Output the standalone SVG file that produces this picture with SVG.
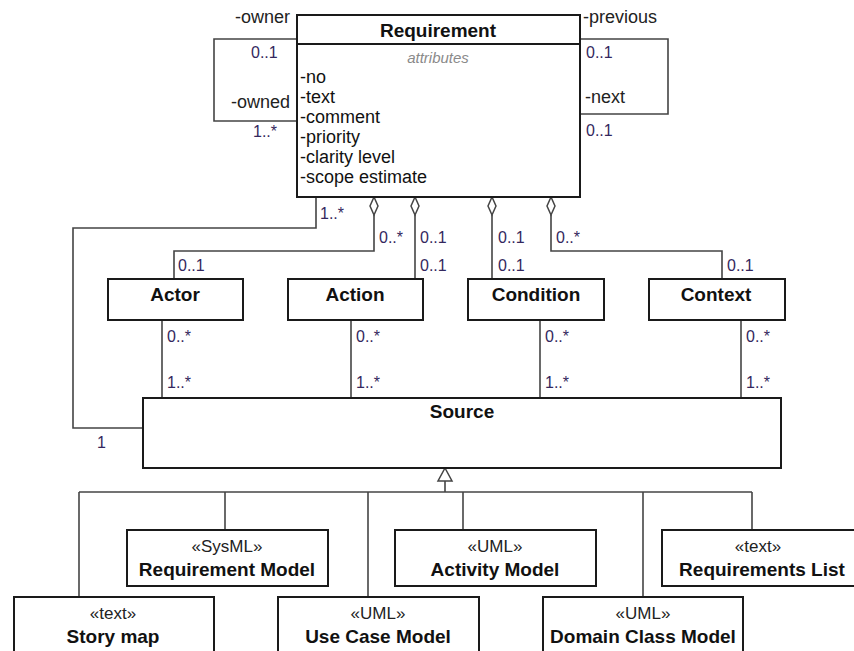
<svg xmlns="http://www.w3.org/2000/svg" width="854" height="651" viewBox="0 0 854 651">
<style>
.box{fill:#fff;stroke:#1a1a1a;stroke-width:2}
.ln{fill:none;stroke:#444;stroke-width:1.6}
.dia{fill:#fff;stroke:#444;stroke-width:1.5}
text{font-family:"Liberation Sans",Arial,sans-serif;fill:#111}
.t{font-size:19px;font-weight:bold;text-anchor:middle}
.st{font-size:17px;text-anchor:middle;fill:#222}
.at{font-size:18px}
.m{font-size:16px;fill:#34285e}
.r{font-size:18px;fill:#222}
.it{font-size:15px;font-style:italic;fill:#8a8a8a;text-anchor:middle}
</style>
<rect width="854" height="651" fill="#fff"/>
<g id="connectors">
  <polyline class="ln" points="297,39 214,39 214,121 297,121"/>
  <polyline class="ln" points="580,39 668,39 668,114 580,114"/>
  <polyline class="ln" points="316,197 316,228 73,228 73,428 143,428"/>
  <polyline class="ln" points="374,215 374,251 174,251 174,279"/>
  <line class="ln" x1="415" y1="215" x2="415" y2="279"/>
  <line class="ln" x1="492" y1="215" x2="492" y2="279"/>
  <polyline class="ln" points="551,215 551,251 722,251 722,279"/>
  <path class="dia" d="M374,197 L378,206 L374,215 L370,206 Z"/>
  <path class="dia" d="M415,197 L419,206 L415,215 L411,206 Z"/>
  <path class="dia" d="M492,197 L496,206 L492,215 L488,206 Z"/>
  <path class="dia" d="M551,197 L555,206 L551,215 L547,206 Z"/>
  <line class="ln" x1="162" y1="320" x2="162" y2="398"/>
  <line class="ln" x1="351" y1="320" x2="351" y2="398"/>
  <line class="ln" x1="540" y1="320" x2="540" y2="398"/>
  <line class="ln" x1="741" y1="320" x2="741" y2="398"/>
  <line class="ln" x1="445" y1="481" x2="445" y2="492"/>
  <path class="dia" d="M445,468 L452,481 L438,481 Z"/>
  <line class="ln" x1="79" y1="492" x2="752" y2="492"/>
  <line class="ln" x1="79" y1="492" x2="79" y2="597"/>
  <line class="ln" x1="225" y1="492" x2="225" y2="530"/>
  <line class="ln" x1="368" y1="492" x2="368" y2="597"/>
  <line class="ln" x1="463" y1="492" x2="463" y2="530"/>
  <line class="ln" x1="643" y1="492" x2="643" y2="597"/>
  <line class="ln" x1="752" y1="492" x2="752" y2="530"/>
  <text class="r" x="290" y="23" text-anchor="end">-owner</text>
  <text class="m" x="251" y="58">0..1</text>
  <text class="r" x="290" y="108" text-anchor="end">-owned</text>
  <text class="m" x="253" y="137">1..*</text>
  <text class="r" x="583" y="23">-previous</text>
  <text class="m" x="586" y="58">0..1</text>
  <text class="r" x="585" y="103">-next</text>
  <text class="m" x="586" y="136">0..1</text>
  <text class="m" x="320" y="219">1..*</text>
  <text class="m" x="379" y="243">0..*</text>
  <text class="m" x="420" y="243">0..1</text>
  <text class="m" x="420" y="271">0..1</text>
  <text class="m" x="178" y="271">0..1</text>
  <text class="m" x="498" y="243">0..1</text>
  <text class="m" x="498" y="271">0..1</text>
  <text class="m" x="556" y="243">0..*</text>
  <text class="m" x="727" y="271">0..1</text>
  <text class="m" x="167" y="342">0..*</text>
  <text class="m" x="167" y="388">1..*</text>
  <text class="m" x="356" y="342">0..*</text>
  <text class="m" x="356" y="388">1..*</text>
  <text class="m" x="545" y="342">0..*</text>
  <text class="m" x="545" y="388">1..*</text>
  <text class="m" x="746" y="342">0..*</text>
  <text class="m" x="746" y="388">1..*</text>
  <text class="m" x="97" y="448">1</text>
</g>
<g id="requirement">
  <rect class="box" x="297" y="15" width="283" height="182"/>
  <line x1="297" y1="44" x2="580" y2="44" stroke="#1a1a1a" stroke-width="2"/>
  <text class="t" x="438" y="37">Requirement</text>
  <text class="it" x="438" y="63">attributes</text>
  <text class="at" x="300" y="83">-no</text>
  <text class="at" x="300" y="103">-text</text>
  <text class="at" x="300" y="123">-comment</text>
  <text class="at" x="300" y="143">-priority</text>
  <text class="at" x="300" y="163">-clarity level</text>
  <text class="at" x="300" y="183">-scope estimate</text>
</g>
<g id="actor">
  <rect class="box" x="108" y="279" width="135" height="41"/>
  <text class="t" x="175" y="301">Actor</text>
</g>
<g id="action">
  <rect class="box" x="288" y="279" width="135" height="41"/>
  <text class="t" x="355" y="301">Action</text>
</g>
<g id="condition">
  <rect class="box" x="468" y="279" width="136" height="41"/>
  <text class="t" x="536" y="301">Condition</text>
</g>
<g id="context">
  <rect class="box" x="649" y="279" width="136" height="41"/>
  <text class="t" x="716" y="301">Context</text>
</g>
<g id="source">
  <rect class="box" x="143" y="398" width="638" height="70"/>
  <text class="t" x="462" y="418">Source</text>
</g>
<g id="requirement-model">
  <rect class="box" x="127" y="530" width="201" height="56"/>
  <text class="st" x="227" y="552">«SysML»</text>
  <text class="t" x="227" y="576">Requirement Model</text>
</g>
<g id="activity-model">
  <rect class="box" x="395" y="530" width="201" height="56"/>
  <text class="st" x="495" y="552">«UML»</text>
  <text class="t" x="495" y="576">Activity Model</text>
</g>
<g id="requirements-list">
  <rect class="box" x="662" y="530" width="200" height="56"/>
  <text class="st" x="758" y="552">«text»</text>
  <text class="t" x="762" y="576">Requirements List</text>
</g>
<g id="story-map">
  <rect class="box" x="14" y="597" width="200" height="60"/>
  <text class="st" x="113" y="619">«text»</text>
  <text class="t" x="113" y="643">Story map</text>
</g>
<g id="use-case-model">
  <rect class="box" x="278" y="597" width="201" height="60"/>
  <text class="st" x="378" y="619">«UML»</text>
  <text class="t" x="378" y="643">Use Case Model</text>
</g>
<g id="domain-class-model">
  <rect class="box" x="543" y="597" width="200" height="60"/>
  <text class="st" x="643" y="619">«UML»</text>
  <text class="t" x="643" y="643">Domain Class Model</text>
</g>
</svg>
